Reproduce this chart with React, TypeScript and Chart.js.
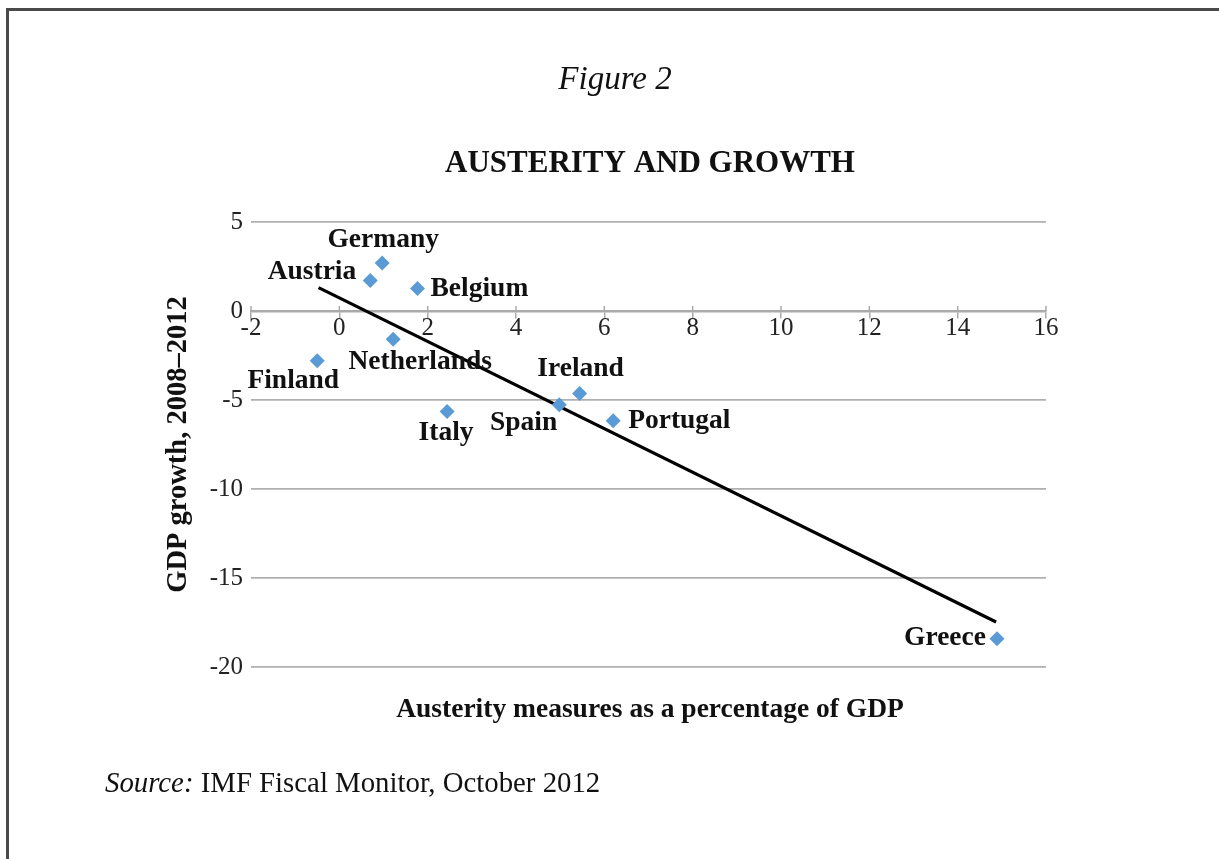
import React, { useEffect, useRef } from "react";
import { Chart, registerables } from "chart.js";

Chart.register(...registerables);

const countries = ["Finland", "Austria", "Germany", "Netherlands", "Belgium", "Italy", "Spain", "Ireland", "Portugal", "Greece"];
const austerity = [-0.5, 0.7, 0.97, 1.22, 1.77, 2.44, 4.98, 5.44, 6.2, 14.89];
const growth = [-2.79, 1.72, 2.69, -1.59, 1.27, -5.64, -5.26, -4.63, -6.16, -18.41];

const trendX = [-0.47, 14.87];
const trendY = [1.31, -17.47];

const xMin = -2;
const xMax = 16;
const xStep = 2;
const yMin = -20;
const yMax = 5;
const yStep = 5;

const figureLabel = "Figure 2";
const chartTitle = "AUSTERITY AND GROWTH";
const xTitle = "Austerity measures as a percentage of GDP";
const yTitle = "GDP growth, 2008\u20132012";
const sourceLead = "Source:";
const sourceText = " IMF Fiscal Monitor, October 2012";

// label placement relative to each point (style, not data)
const labelPlacement: { align: CanvasTextAlign; dx: number; dy: number }[] = [
  { align: "center", dx: -24, dy: 20 }, // Finland
  { align: "right", dx: -14, dy: -8 }, // Austria
  { align: "center", dx: 1, dy: -23 }, // Germany
  { align: "center", dx: 27, dy: 23 }, // Netherlands
  { align: "left", dx: 13, dy: 0 }, // Belgium
  { align: "center", dx: -1, dy: 21 }, // Italy
  { align: "right", dx: -2, dy: 18 }, // Spain
  { align: "center", dx: 1, dy: -25 }, // Ireland
  { align: "left", dx: 15, dy: 0 }, // Portugal
  { align: "right", dx: -11, dy: -1 }, // Greece
];

const SERIF = '"Liberation Serif", "Times New Roman", serif';

const upTickPlugin = {
  id: "upTicks",
  beforeDatasetsDraw(chart: any) {
    const ctx: CanvasRenderingContext2D = chart.ctx;
    const xs = chart.scales.x;
    const ys = chart.scales.y;
    const y0 = ys.getPixelForValue(0);
    ctx.save();
    ctx.strokeStyle = "#aaaaaa";
    ctx.lineWidth = 1.5;
    xs.ticks.forEach((t: any) => {
      const px = xs.getPixelForValue(t.value);
      ctx.beginPath();
      ctx.moveTo(px, y0);
      ctx.lineTo(px, y0 - 5);
      ctx.stroke();
    });
    ctx.restore();
  },
};

const textPlugin = {
  id: "textPlugin",
  afterDraw(chart: any) {
    const ctx: CanvasRenderingContext2D = chart.ctx;
    const meta = chart.getDatasetMeta(0);
    ctx.save();
    ctx.fillStyle = "#111";
    ctx.textBaseline = "middle";
    ctx.font = `bold 27.5px ${SERIF}`;
    meta.data.forEach((el: any, i: number) => {
      const p = labelPlacement[i];
      ctx.textAlign = p.align;
      ctx.fillText(countries[i], el.x + p.dx, el.y + p.dy);
    });

    ctx.textBaseline = "alphabetic";
    ctx.textAlign = "center";
    ctx.font = `italic 33px ${SERIF}`;
    ctx.fillText(figureLabel, 615, 89);
    ctx.font = `bold 31px ${SERIF}`;
    ctx.fillText(chartTitle, 650, 172);
    ctx.font = `bold 27.5px ${SERIF}`;
    ctx.fillText(xTitle, 650, 717);

    ctx.textAlign = "left";
    ctx.font = `italic 28.8px ${SERIF}`;
    ctx.fillText(sourceLead, 105, 792);
    const w = ctx.measureText(sourceLead).width;
    ctx.font = `28.8px ${SERIF}`;
    ctx.fillText(sourceText, 105 + w, 792);
    ctx.restore();
  },
};

export default function App() {
  const canvasRef = useRef<HTMLCanvasElement | null>(null);

  useEffect(() => {
    if (!canvasRef.current) return;
    const chart = new Chart(canvasRef.current, {
      type: "scatter",
      data: {
        datasets: [
          {
            label: "Countries",
            data: austerity.map((x, i) => ({ x, y: growth[i] })),
            pointStyle: "rectRot",
            pointRadius: 7.5,
            pointHoverRadius: 7.5,
            backgroundColor: "#5b9bd5",
            borderColor: "#5b9bd5",
            borderWidth: 0,
            order: 1,
          },
          {
            type: "line",
            label: "Trend",
            data: trendX.map((x, i) => ({ x, y: trendY[i] })),
            borderColor: "#000",
            borderWidth: 3.2,
            pointRadius: 0,
            showLine: true,
            fill: false,
            order: 2,
          } as any,
        ],
      },
      options: {
        animation: false,
        responsive: false,
        layout: { padding: { left: 160, top: 222, right: 173, bottom: 192 } },
        plugins: {
          legend: { display: false },
          tooltip: { enabled: false },
          title: { display: false },
        },
        scales: {
          x: {
            type: "linear",
            position: { y: 0 } as any,
            min: xMin,
            max: xMax,
            ticks: {
              stepSize: xStep,
              autoSkip: false,
              maxRotation: 0,
              padding: -4,
              color: "#222",
              font: { family: SERIF, size: 25 },
            },
            grid: {
              drawOnChartArea: false,
              drawTicks: true,
              tickLength: 6,
              color: "#aaaaaa",
              lineWidth: 1.5,
            },
            border: { display: true, color: "#aaaaaa", width: 2.5 },
          },
          y: {
            type: "linear",
            min: yMin,
            max: yMax,
            afterFit: (scale: any) => {
              scale.width = 91;
            },
            ticks: {
              stepSize: yStep,
              padding: 8,
              color: "#222",
              font: { family: SERIF, size: 25 },
            },
            grid: {
              drawTicks: false,
              color: "#b0b0b0",
              lineWidth: 1.8,
            },
            border: { display: false },
            title: {
              display: true,
              text: yTitle,
              color: "#111",
              font: { family: SERIF, size: 28.5, weight: "bold" },
              padding: { top: 2, bottom: 4 },
            },
          },
        },
      },
      plugins: [upTickPlugin, textPlugin],
    });
    return () => chart.destroy();
  }, []);

  return (
    <div style={{ position: "fixed", left: 0, top: 0, width: 1219, height: 859, background: "#fff", overflow: "hidden" }}>
      <div
        style={{
          position: "absolute",
          left: 6,
          top: 8,
          width: 1300,
          height: 900,
          borderTop: "3px solid #4a4a4a",
          borderLeft: "3px solid #4a4a4a",
        }}
      />
      <canvas ref={canvasRef} width={1219} height={859} style={{ position: "absolute", left: 0, top: 0 }} />
    </div>
  );
}
